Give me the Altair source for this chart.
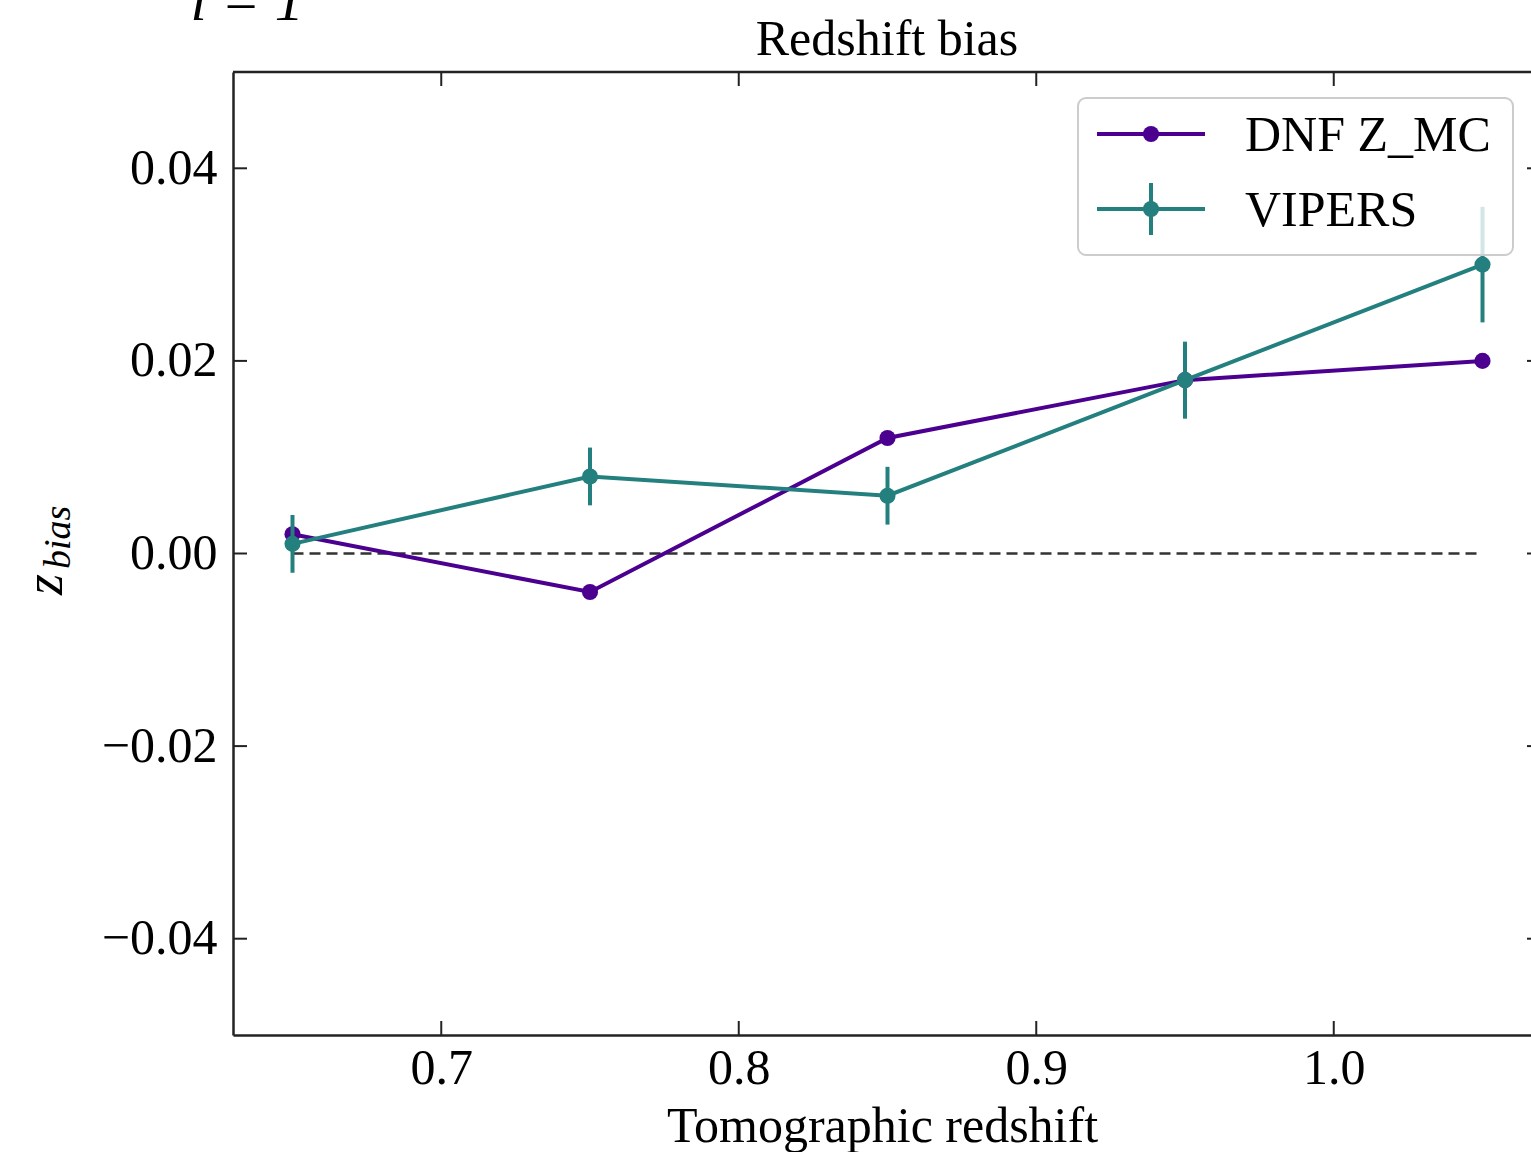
import altair as alt
import pandas as pd

# ---- data ----
x_vals = [0.65, 0.75, 0.85, 0.95, 1.05]
dnf_vals = [0.002, -0.004, 0.012, 0.018, 0.020]
vipers_vals = [0.001, 0.008, 0.006, 0.018, 0.030]
vipers_err = [0.003, 0.003, 0.003, 0.004, 0.006]
x_ticks = [0.7, 0.8, 0.9, 1.0]
y_ticks = [-0.04, -0.02, 0.0, 0.02, 0.04]
series_names = ["DNF Z_MC", "VIPERS"]
series_colors = ["#4b0090", "#23807e"]
zero_span = [0.65, 1.05]
fragment_text = ["i = 1"]
title_text = ["Redshift bias"]

FONT = "Liberation Serif"
W, H = 1298, 963
FS = 50

xscale = alt.Scale(domain=[0.63, 1.0663], nice=False, zero=False)
yscale = alt.Scale(domain=[-0.05, 0.05], nice=False, zero=False)

xaxis = alt.Axis(values=x_ticks, format=".1f", tickSize=0, grid=False,
                 domain=True, domainColor="#222222", domainWidth=2.5,
                 labelFont=FONT, labelFontSize=FS, labelColor="black", labelPadding=8,
                 titleFont=FONT, titleFontSize=FS, titleFontWeight="normal",
                 titleColor="black", titlePadding=8, labelFlush=False)
yaxis = alt.Axis(values=y_ticks, format=".2f", tickSize=0, grid=False,
                 domain=True, domainColor="#222222", domainWidth=2.5,
                 labelFont=FONT, labelFontSize=FS, labelColor="black", labelPadding=16,
                 title=None, labelFlush=False)


def X(field):
    return alt.X(field, type="quantitative", scale=xscale, axis=xaxis,
                 title="Tomographic redshift")


def Y(field):
    return alt.Y(field, type="quantitative", scale=yscale, axis=yaxis, title=None)


df_dnf = pd.DataFrame({"x": x_vals, "y": dnf_vals})
df_vip = pd.DataFrame({
    "x": x_vals,
    "y": vipers_vals,
    "lo": [v - e for v, e in zip(vipers_vals, vipers_err)],
    "hi": [v + e for v, e in zip(vipers_vals, vipers_err)],
})
df_zero = pd.DataFrame({"x": [zero_span[0]], "x2": [zero_span[1]], "y": [0.0]})
df_xt = pd.DataFrame({"x": x_ticks})
df_yt = pd.DataFrame({"y": y_ticks})

zero_line = alt.Chart(df_zero).mark_rule(
    color="#333333", strokeWidth=2.5, strokeDash=[11, 6]
).encode(x=X("x"), x2="x2", y=Y("y"))

dnf_line = alt.Chart(df_dnf).mark_line(color=series_colors[0], strokeWidth=4).encode(
    x=X("x"), y=Y("y"))
dnf_pts = alt.Chart(df_dnf).mark_circle(color=series_colors[0], size=260, opacity=1).encode(
    x=X("x"), y=Y("y"))

vip_err = alt.Chart(df_vip).mark_rule(color=series_colors[1], strokeWidth=4).encode(
    x=X("x"), y=Y("lo"), y2="hi")
vip_line = alt.Chart(df_vip).mark_line(color=series_colors[1], strokeWidth=4).encode(
    x=X("x"), y=Y("y"))
vip_pts = alt.Chart(df_vip).mark_circle(color=series_colors[1], size=260, opacity=1).encode(
    x=X("x"), y=Y("y"))

TICK = 14
tick_col = "#222222"
xt_bottom = alt.Chart(df_xt).mark_rule(color=tick_col, strokeWidth=2).encode(
    x=X("x"), y=alt.value(H), y2=alt.value(H - TICK))
xt_top = alt.Chart(df_xt).mark_rule(color=tick_col, strokeWidth=2).encode(
    x=X("x"), y=alt.value(0), y2=alt.value(TICK))
yt_left = alt.Chart(df_yt).mark_rule(color=tick_col, strokeWidth=2).encode(
    y=Y("y"), x=alt.value(0), x2=alt.value(TICK))
yt_right = alt.Chart(df_yt).mark_rule(color=tick_col, strokeWidth=2).encode(
    y=Y("y"), x=alt.value(W - 4), x2=alt.value(W + 10))
top_spine = alt.Chart(df_zero).mark_rule(color="#222222", strokeWidth=2.5).encode(
    x=alt.value(0), x2=alt.value(W + 10), y=alt.value(0))

# ---- legend (manual, to show line + marker + error bar) ----
LX0, LX1, LY0, LY1 = 845, 1280, 26, 183
legend_box = alt.Chart(df_zero).mark_rect(
    fill="white", fillOpacity=0.8, stroke="#cccccc", strokeWidth=2, cornerRadius=8
).encode(x=alt.value(LX0), x2=alt.value(LX1), y=alt.value(LY0), y2=alt.value(LY1))

legend_layers = []
for i, (name, col) in enumerate(zip(series_names, series_colors)):
    ry = 62 + 75 * i
    dfn = pd.DataFrame({"name": [name]})
    legend_layers.append(alt.Chart(dfn).mark_rule(color=col, strokeWidth=4).encode(
        x=alt.value(864), x2=alt.value(972), y=alt.value(ry)))
    if name == "VIPERS":
        legend_layers.append(alt.Chart(dfn).mark_rule(color=col, strokeWidth=4).encode(
            x=alt.value(918), y=alt.value(ry - 26), y2=alt.value(ry + 26)))
    legend_layers.append(alt.Chart(dfn).mark_circle(color=col, size=260, opacity=1).encode(
        x=alt.value(918), y=alt.value(ry)))
    legend_layers.append(alt.Chart(dfn).mark_text(
        font=FONT, fontSize=FS, color="black", align="left", baseline="middle"
    ).encode(x=alt.value(1012), y=alt.value(ry + 2), text="name:N"))

# ---- y axis label z_bias ----
ylab_z = alt.Chart(pd.DataFrame({"t": ["z"]})).mark_text(
    font=FONT, fontSize=54, fontStyle="italic", color="black", angle=270,
    align="left", baseline="alphabetic"
).encode(x=alt.value(-171), y=alt.value(523), text="t:N")
ylab_sub = alt.Chart(pd.DataFrame({"t": ["bias"]})).mark_text(
    font=FONT, fontSize=38, fontStyle="italic", color="black", angle=270,
    align="left", baseline="alphabetic"
).encode(x=alt.value(-163), y=alt.value(497), text="t:N")

frag = alt.Chart(pd.DataFrame({"t": fragment_text})).mark_text(
    font=FONT, fontSize=58, fontStyle="italic", color="black", align="center",
    baseline="alphabetic"
).encode(x=alt.value(14), y=alt.value(-52), text="t:N")

title_mark = alt.Chart(pd.DataFrame({"t": title_text})).mark_text(
    font=FONT, fontSize=FS, color="black", align="center", baseline="alphabetic"
).encode(x=alt.value(654), y=alt.value(-17), text="t:N")

chart = alt.layer(
    zero_line, dnf_line, dnf_pts, vip_err, vip_line, vip_pts,
    xt_bottom, xt_top, yt_left, yt_right, top_spine,
    legend_box, *legend_layers, ylab_z, ylab_sub, frag, title_mark
).properties(
    width=W, height=H,
    autosize=alt.AutoSizeParams(type="none"),
    padding={"left": 233, "top": 72, "right": 0, "bottom": 117},
).configure_view(stroke=None).configure(background="white")

chart.save("out.html", embed_options={"renderer": "svg", "actions": False})
